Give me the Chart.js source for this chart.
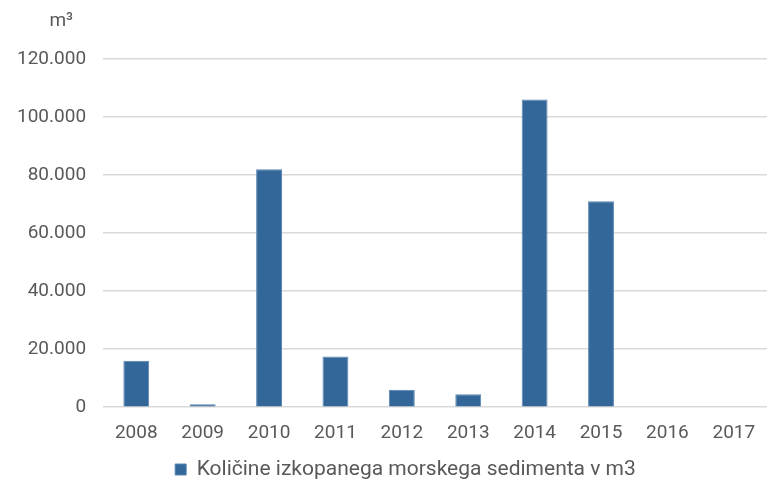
<!doctype html>
<html>
	<head>
		<meta charset="utf-8" />
		<title>Količine izkopanega morskega sedimenta</title>
		<script src="https://cdn.jsdelivr.net/npm/chart.js@4/dist/chart.umd.min.js"></script>
		<style>
			html,
			body {
				margin: 0;
				padding: 0;
				background: #fff;
			}
			#wrap {
				position: relative;
				width: 767px;
				height: 491px;
			}
		</style>
	</head>
	<body>
		<div id="wrap"><canvas id="chart"></canvas></div>
		<script>
			const years = ["2008", "2009", "2010", "2011", "2012", "2013", "2014", "2015", "2016", "2017"];
			const volumes = [16000, 1000, 82000, 17500, 6000, 4500, 106000, 71000, 0, 0];
			const seriesLabel = "Količine izkopanega morskega sedimenta v m3";
			const unitLabel = "m³";

			const textColor = "#595959";
			const fontFamily = "Roboto, 'Noto Sans', sans-serif";

			// thousands separated with a dot: 120.000
			function fmt(v) {
				return String(v).replace(/\B(?=(\d{3})+(?!\d))/g, ".");
			}

			// unit caption above the value axis, legend nudged to the right
			const unitCaption = {
				id: "unitCaption",
				afterLayout(chart) {
					chart.legend.left += 22;
					chart.legend.right += 22;
				},
				afterDraw(chart) {
					const { ctx } = chart;
					const y = chart.scales.y;
					ctx.save();
					ctx.fillStyle = textColor;
					ctx.font = "19px " + fontFamily;
					ctx.textAlign = "right";
					ctx.textBaseline = "middle";
					ctx.fillText(unitLabel, y.right - 30, 21);
					ctx.restore();
				},
			};

			new Chart(document.getElementById("chart"), {
				type: "bar",
				data: {
					labels: years,
					datasets: [
						{
							label: seriesLabel,
							data: volumes,
							backgroundColor: "#336699",
							borderColor: "#5a86b3",
							borderWidth: 1,
							barPercentage: 0.39,
							categoryPercentage: 1,
						},
					],
				},
				options: {
					responsive: true,
					maintainAspectRatio: false,
					animation: false,
					layout: { padding: { top: 59, left: 0, right: 0, bottom: 1 } },
					plugins: {
						tooltip: { enabled: false },
						legend: {
							position: "bottom",
							labels: {
								color: textColor,
								font: { family: fontFamily, size: 21 },
								boxWidth: 11,
								boxHeight: 11,
								padding: 7,
							},
						},
					},
					scales: {
						x: {
							grid: { display: false },
							border: { display: false },
							ticks: {
								color: textColor,
								font: { family: fontFamily, size: 19 },
								padding: 7,
							},
						},
						y: {
							min: 0,
							max: 120000,
							border: { display: false },
							grid: { color: "#d9d9d9", lineWidth: 1.5, drawTicks: false },
							ticks: {
								stepSize: 20000,
								color: textColor,
								font: { family: fontFamily, size: 19 },
								padding: 17,
								callback: (v) => fmt(v),
							},
						},
					},
				},
				plugins: [unitCaption],
			});
		</script>
	</body>
</html>
